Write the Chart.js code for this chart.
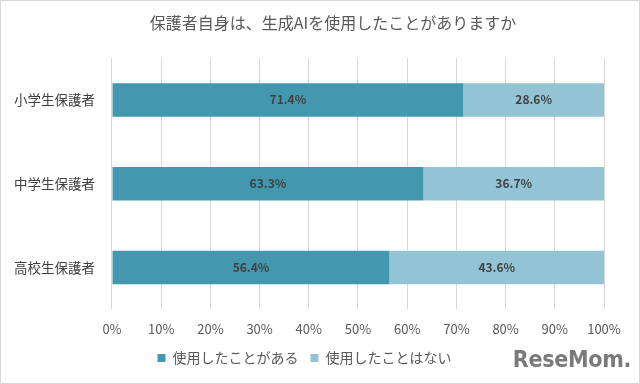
<!DOCTYPE html>
<html>
<head>
<meta charset="utf-8">
<script src="https://cdn.jsdelivr.net/npm/chart.js@4/dist/chart.umd.min.js"></script>
<style>
  html, body { margin: 0; padding: 0; background: #fff; }
  #wrap { position: relative; width: 640px; height: 384px; box-sizing: border-box; border: 1px solid #d9d9d9; }
  #title { position: absolute; left: 0; top: 10px; width: 664px; text-align: center; font: 16px "Noto Sans CJK JP", sans-serif; color: #595959; line-height: 22px; }
  #mark { position: absolute; right: 8px; bottom: 11px; font: bold 23px "Liberation Sans Narrow", "DejaVu Sans Condensed", sans-serif; color: #7a7a7a; letter-spacing: -0.3px; }
</style>
</head>
<body>
<div id="wrap">
  <canvas id="myChart" width="638" height="382"></canvas>
  <div id="title">保護者自身は、生成AIを使用したことがありますか</div>
  <div id="mark">ReseMom.</div>
</div>
<script>
let categories = ["小学生保護者", "中学生保護者", "高校生保護者"]
let usedValues = [71.4, 63.3, 56.4]
let notUsedValues = [28.6, 36.7, 43.6]
let seriesNames = ["使用したことがある", "使用したことはない"]

let jpFont = '"Noto Sans CJK JP", "Noto Sans", sans-serif'

// draw the percent labels in the middle of each bar segment
let barLabels = {
    id: 'barLabels',
    afterDatasetsDraw(chart) {
        let ctx = chart.ctx
        ctx.save()
        ctx.font = 'bold 12px ' + jpFont
        ctx.fillStyle = '#404040'
        ctx.textAlign = 'center'
        ctx.textBaseline = 'middle'
        chart.data.datasets.forEach((ds, i) => {
            chart.getDatasetMeta(i).data.forEach((bar, j) => {
                let mid = (bar.x + bar.base) / 2
                ctx.fillText(ds.data[j].toFixed(1) + '%', mid, bar.y)
            })
        })
        ctx.restore()
    }
}

let myBarChart = document.getElementById("myChart").getContext('2d');
new Chart(myBarChart, {
    type: 'bar',
    data: {
        labels: categories,
        datasets: [
            {
              label: seriesNames[0],
              backgroundColor: "#4398af",
              data: usedValues
            },
            {
              label: seriesNames[1],
              backgroundColor: "#93c4d6",
              data: notUsedValues
            }
          ]
        },
    plugins: [barLabels],
    options: {
        responsive: false,
        animation: false,
        indexAxis: 'y',
        barPercentage: 0.4,
        categoryPercentage: 1,
        layout: {
            padding: { left: 4, right: 35, top: 57, bottom: 8 }
        },
        scales: {
            x: {
                stacked: true,
                min: 0,
                max: 100,
                ticks: {
                    stepSize: 10,
                    callback: v => v + '%',
                    color: '#595959',
                    font: { size: 13, family: jpFont },
                    padding: 2
                },
                grid: { color: '#d9d9d9', tickLength: 10, tickColor: 'rgba(0,0,0,0)' },
                border: { display: false }
            },
            y: {
                stacked: true,
                ticks: {
                    color: '#404040',
                    font: { size: 13.5, family: jpFont },
                    padding: 9
                },
                grid: { display: false },
                border: { display: false }
            }
        },
        plugins: {
            legend: {
                position: 'bottom',
                labels: {
                    boxWidth: 8,
                    boxHeight: 8,
                    color: '#595959',
                    font: { size: 14, family: jpFont },
                    padding: 12
                }
            },
            tooltip: { enabled: false }
        }
    }
});
</script>
</body>
</html>
